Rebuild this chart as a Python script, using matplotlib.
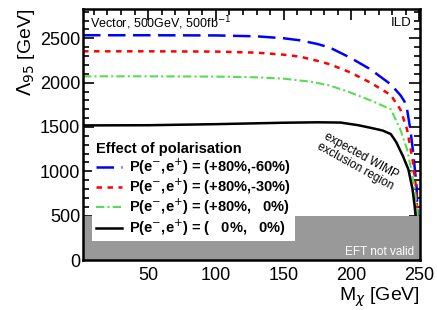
import numpy as np
import matplotlib
matplotlib.use('Agg')
from matplotlib import pyplot as plt
from matplotlib.ticker import MultipleLocator

plt.rcParams['font.family'] = ['Liberation Sans', 'DejaVu Sans']

# curves (M_chi in GeV, Lambda_95 in GeV)
m_blue = [2, 50, 100, 130, 150, 162, 175, 184, 199, 214, 229, 236, 239, 241, 243.4, 245.5, 248, 248.7, 249.5]
l_blue = [2534, 2534, 2532, 2522, 2500, 2477, 2435, 2395, 2282, 2150, 1980, 1860, 1790, 1699, 1473, 1213, 830, 500, 0]

m_red = [2, 50, 100, 130, 150, 162, 175, 184, 199, 214, 229, 236, 241, 245, 247.5, 248.7, 249.5]
l_red = [2353, 2353, 2350, 2338, 2315, 2293, 2245, 2207, 2116, 2000, 1860, 1699, 1473, 1135, 830, 500, 0]

m_green = [2, 50, 100, 130, 150, 170, 184, 199, 214, 229, 236, 241, 245, 247.5, 248.7, 249.5]
l_green = [2071, 2071, 2068, 2060, 2045, 2010, 1968, 1890, 1800, 1700, 1473, 1247, 950, 690, 500, 0]

m_black = [2, 50, 100, 150, 175, 192, 205, 215, 223, 229, 233, 238, 242, 245, 246.5, 247.3, 248.5]
l_black = [1518, 1520, 1532, 1548, 1553, 1550, 1520, 1488, 1460, 1420, 1330, 1170, 1020, 800, 620, 500, 0]

labels = ['P(e$^{-}$,e$^{+}$) = (+80%,-60%)',
          'P(e$^{-}$,e$^{+}$) = (+80%,-30%)',
          'P(e$^{-}$,e$^{+}$) = (+80%,   0%)',
          'P(e$^{-}$,e$^{+}$) = (   0%,   0%)']

fig = plt.figure(figsize=(4.37, 3.10), dpi=100)
ax = fig.add_axes([0.19, 0.161, 0.771, 0.81])

ax.plot(m_blue, l_blue, color='#0000ff', lw=1.8, ls=(0, (7, 3)), label=labels[0])
ax.plot(m_red, l_red, color='#ff0000', lw=1.8, ls=(0, (2.2, 2.2)), label=labels[1])
ax.plot(m_green, l_green, color='#55dd55', lw=1.5, ls=(0, (4, 1.5, 1, 1.5)), label=labels[2])
ax.plot(m_black, l_black, color='black', lw=1.8, label=labels[3])

# EFT not valid region
ax.fill_between([0, 251], 0, 500, color='#999999', lw=0, zorder=5)
ax.text(246, 90, 'EFT not valid', color='white', fontsize=8.5, ha='right', va='center', zorder=6)

ax.set_xlim(2, 250.5)
ax.set_ylim(0, 2830)
ax.xaxis.set_major_locator(MultipleLocator(50))
ax.xaxis.set_minor_locator(MultipleLocator(10))
ax.yaxis.set_major_locator(MultipleLocator(500))
ax.yaxis.set_minor_locator(MultipleLocator(100))
ax.tick_params(which='both', direction='in', top=True, right=True, labelsize=13, width=1.2)
ax.tick_params(which='major', length=8, pad=2)
ax.tick_params(which='minor', length=4)
ax.tick_params(axis='x', which='major', pad=5)
for s in ax.spines.values():
    s.set_linewidth(1.8)
    s.set_zorder(10)

ax.set_xlabel(r'M$_{\chi}$ [GeV]', fontsize=14, loc='right', labelpad=1)
ax.set_ylabel(r'$\Lambda_{95}$ [GeV]', fontsize=14, loc='top', labelpad=2)

ax.text(0.02, 0.945, 'Vector, 500GeV, 500fb$^{-1}$', transform=ax.transAxes, fontsize=9, va='center')
ax.text(0.975, 0.945, 'ILD', transform=ax.transAxes, fontsize=9.5, ha='right', va='center')
ax.text(205, 1112, 'expected WIMP\nexclusion region', fontsize=8.5, rotation=-29,
        ha='center', va='center', linespacing=1.0)

leg = ax.legend(loc='lower left', bbox_to_anchor=(0.027, 0.075), borderaxespad=0,
                title='Effect of polarisation', title_fontproperties={'weight': 'bold', 'size': 10.5},
                prop={'weight': 'bold', 'size': 10.5}, handlelength=1.8, handletextpad=0.5,
                labelspacing=0.0, frameon=True, fancybox=False, borderpad=0.25)
leg._legend_box.align = 'left'
leg.get_frame().set_facecolor('white')
leg.get_frame().set_edgecolor('none')
leg.get_frame().set_alpha(1)
leg.set_zorder(7)

fig.savefig('out.png', dpi=100)
